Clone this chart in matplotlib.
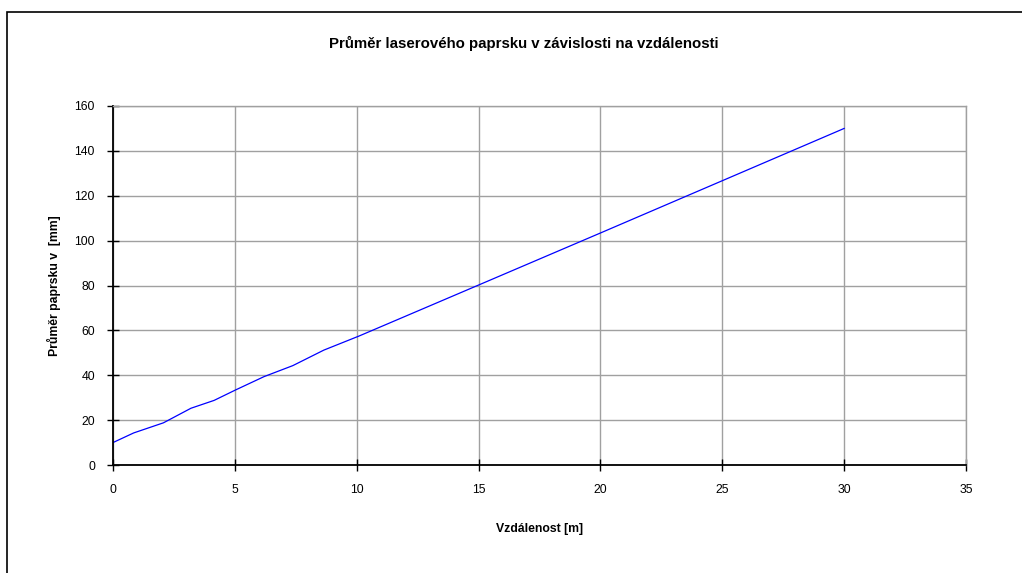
import matplotlib
matplotlib.use("Agg")
import matplotlib.pyplot as plt
from matplotlib.patches import Rectangle

distance_m = [0, 0.85, 2.07, 3.2, 4.15, 5.02, 6.2, 7.38, 8.65, 10.1, 15, 20, 25, 30]
diameter_mm = [10, 14.3, 18.8, 25.3, 28.8, 33.4, 39.4, 44.3, 51.2, 57.5, 80.2, 103.4, 126.7, 150]

title = "Průměr laserového paprsku v závislosti na vzdálenosti"
xlabel = "Vzdálenost [m]"
ylabel = "Průměr paprsku v  [mm]"
xticks = [0, 5, 10, 15, 20, 25, 30, 35]
yticks = [0, 20, 40, 60, 80, 100, 120, 140, 160]

plt.rcParams['font.family'] = ['Liberation Sans', 'DejaVu Sans']

W, H = 1022, 573
fig = plt.figure(figsize=(W / 100, H / 100), dpi=100)
ax = fig.add_axes([113 / W, 1 - 465 / H, (966 - 113) / W, (465 - 106) / H])

ax.plot(distance_m, diameter_mm, color="#0000ff", lw=0.9)

ax.set_xlim(0, 35)
ax.set_ylim(0, 160)
ax.set_xticks(xticks)
ax.set_yticks(yticks)
ax.grid(True, color="#a0a0a0", lw=1.0)
ax.set_axisbelow(True)

for s in ["left", "bottom"]:
    ax.spines[s].set_color("black")
    ax.spines[s].set_linewidth(1.3)
for s in ["top", "right"]:
    ax.spines[s].set_color("#a0a0a0")
    ax.spines[s].set_linewidth(1.0)

ax.tick_params(axis="both", direction="inout", length=8, width=1.0, labelsize=8.8, color="black")
ax.tick_params(axis="x", pad=10)
ax.tick_params(axis="y", pad=9)

ax.set_xlabel(xlabel, fontsize=8.8, fontweight="bold", labelpad=19)
ax.set_ylabel(ylabel, fontsize=8.8, fontweight="bold", labelpad=10)
fig.text(524 / W, 1 - 43 / H, title, fontsize=10.8, fontweight="bold",
         ha="center", va="center")

fig.patches.append(Rectangle((7 / W, -0.1), 1.2, 1 - 12 / H + 0.1, transform=fig.transFigure,
                             fill=False, edgecolor="black", lw=1.2))

fig.savefig("out.png", dpi=100)
